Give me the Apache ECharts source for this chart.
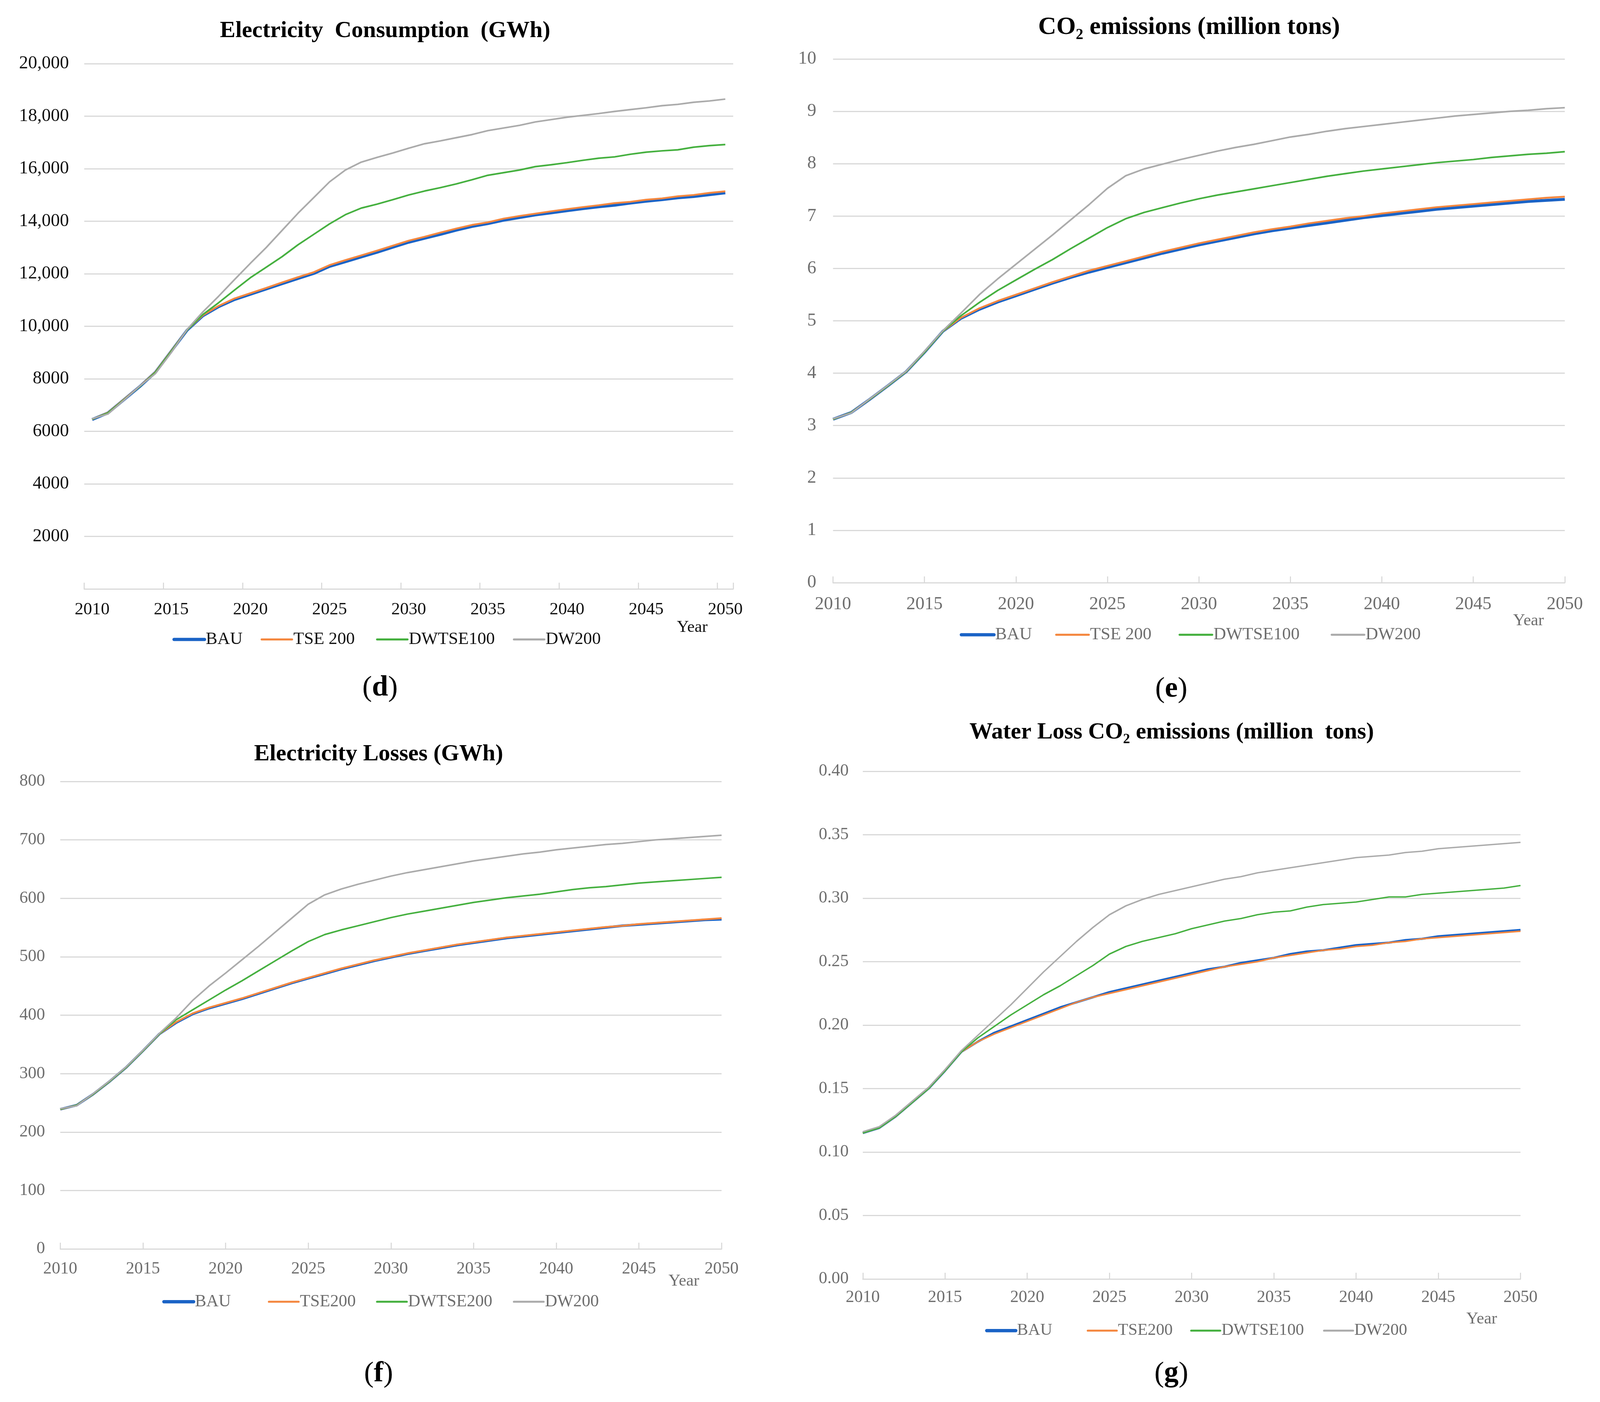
<!DOCTYPE html>
<html>
<head>
<meta charset="utf-8">
<script src="https://cdn.jsdelivr.net/npm/echarts@6/dist/echarts.min.js"></script>
<style>
html,body{margin:0;padding:0;background:#fff;overflow:hidden;}
#c{width:100vw;height:100vh;}
</style>
</head>
<body>
<div id="c"></div>
<script>
// ---------- DATA ----------
const years = ['2010','2011','2012','2013','2014','2015','2016','2017','2018','2019','2020','2021','2022','2023','2024','2025','2026','2027','2028','2029','2030','2031','2032','2033','2034','2035','2036','2037','2038','2039','2040','2041','2042','2043','2044','2045','2046','2047','2048','2049','2050'];

// (d) Electricity Consumption (GWh)
const dBAU = [6450,6700,7200,7700,8250,9050,9850,10400,10750,11020,11220,11420,11620,11820,12010,12280,12460,12640,12820,13010,13200,13350,13500,13660,13800,13910,14040,14140,14240,14320,14400,14480,14550,14610,14690,14760,14820,14890,14940,15010,15080];
const dTSE = [6460,6710,7210,7710,8260,9060,9860,10420,10780,11060,11260,11460,11670,11870,12060,12330,12520,12700,12880,13070,13260,13410,13570,13720,13860,13960,14100,14200,14290,14380,14460,14540,14610,14690,14740,14820,14870,14950,15000,15080,15140];
const dDWTSE = [6460,6700,7200,7700,8250,9050,9860,10450,10900,11380,11850,12250,12650,13100,13500,13900,14250,14500,14650,14820,15000,15150,15280,15420,15580,15750,15850,15950,16080,16150,16230,16320,16400,16450,16550,16630,16680,16720,16820,16880,16920];
const dDW = [6480,6660,7180,7720,8200,9000,9880,10550,11150,11780,12400,13000,13650,14300,14900,15500,15950,16250,16430,16600,16780,16950,17060,17180,17300,17450,17550,17650,17780,17870,17960,18030,18100,18180,18250,18320,18400,18450,18530,18580,18650];

// (e) CO2 emissions (million tons)
const eBAU = [3.12,3.25,3.50,3.76,4.03,4.40,4.80,5.05,5.22,5.36,5.48,5.60,5.72,5.83,5.93,6.02,6.11,6.20,6.29,6.37,6.45,6.52,6.59,6.66,6.72,6.77,6.82,6.87,6.92,6.97,7.01,7.05,7.09,7.13,7.16,7.19,7.22,7.25,7.28,7.30,7.32];
const eTSE = [3.12,3.25,3.50,3.76,4.03,4.40,4.80,5.06,5.24,5.38,5.50,5.62,5.74,5.85,5.96,6.05,6.14,6.23,6.32,6.40,6.48,6.55,6.62,6.69,6.75,6.80,6.86,6.91,6.96,7.00,7.05,7.09,7.13,7.17,7.20,7.23,7.26,7.29,7.32,7.35,7.37];
const eDWTSE = [3.12,3.25,3.50,3.76,4.03,4.40,4.80,5.10,5.35,5.58,5.78,5.98,6.17,6.38,6.58,6.78,6.95,7.07,7.16,7.25,7.33,7.40,7.46,7.52,7.58,7.64,7.70,7.76,7.81,7.86,7.90,7.94,7.98,8.02,8.05,8.08,8.12,8.15,8.18,8.20,8.23];
const eDW = [3.13,3.24,3.51,3.77,4.04,4.42,4.81,5.15,5.50,5.80,6.08,6.36,6.64,6.93,7.22,7.53,7.77,7.90,7.99,8.08,8.16,8.24,8.31,8.37,8.44,8.51,8.56,8.62,8.67,8.71,8.75,8.79,8.83,8.87,8.91,8.94,8.97,9.00,9.02,9.05,9.07];

// (f) Electricity Losses (GWh)
const fBAU = [239,246,265,287,311,339,368,387,402,412,420,428,437,446,455,463,471,479,486,493,499,505,510,515,520,524,528,532,535,538,541,544,547,550,553,555,557,559,561,563,564];
const fTSE = [239,246,265,287,311,339,368,388,403,413,421,429,438,447,456,464,472,480,487,494,500,506,511,516,521,525,529,533,536,539,542,545,548,551,553,556,558,560,562,564,566];
const fDWTSE = [239,246,265,287,311,339,368,392,409,426,443,459,476,493,510,526,538,546,553,560,567,573,578,583,588,593,597,601,604,607,611,615,618,620,623,626,628,630,632,634,636];
const fDW = [240,245,266,288,312,340,369,395,425,450,472,495,518,542,566,590,606,616,624,631,638,644,649,654,659,664,668,672,676,679,683,686,689,692,694,697,700,702,704,706,708];

// (g) Water Loss CO2 emissions (million tons)
const gBAU = [0.115,0.119,0.128,0.139,0.150,0.164,0.179,0.187,0.194,0.199,0.204,0.209,0.214,0.218,0.222,0.226,0.229,0.232,0.235,0.238,0.241,0.244,0.246,0.249,0.251,0.253,0.256,0.258,0.259,0.261,0.263,0.264,0.265,0.267,0.268,0.270,0.271,0.272,0.273,0.274,0.275];
const gTSE = [0.115,0.119,0.128,0.139,0.150,0.164,0.179,0.187,0.193,0.198,0.203,0.208,0.213,0.218,0.222,0.225,0.228,0.231,0.234,0.237,0.240,0.243,0.246,0.248,0.250,0.253,0.255,0.257,0.259,0.260,0.262,0.263,0.265,0.266,0.268,0.269,0.270,0.271,0.272,0.273,0.274];
const gDWTSE = [0.115,0.119,0.128,0.139,0.150,0.164,0.179,0.190,0.199,0.208,0.216,0.224,0.231,0.239,0.247,0.256,0.262,0.266,0.269,0.272,0.276,0.279,0.282,0.284,0.287,0.289,0.290,0.293,0.295,0.296,0.297,0.299,0.301,0.301,0.303,0.304,0.305,0.306,0.307,0.308,0.310];
const gDW = [0.116,0.120,0.129,0.140,0.151,0.165,0.180,0.192,0.204,0.216,0.229,0.242,0.254,0.266,0.277,0.287,0.294,0.299,0.303,0.306,0.309,0.312,0.315,0.317,0.320,0.322,0.324,0.326,0.328,0.330,0.332,0.333,0.334,0.336,0.337,0.339,0.340,0.341,0.342,0.343,0.344];

const titles = ['Electricity  Consumption  (GWh)','CO\u2082 emissions (million tons)','Electricity Losses (GWh)','Water Loss CO\u2082 emissions (million  tons)'];
const panelLetters = ['d','e','f','g'];
const legendNames = [
  ['BAU','TSE 200','DWTSE100','DW200'],
  ['BAU','TSE 200','DWTSE100','DW200'],
  ['BAU','TSE200','DWTSE200','DW200'],
  ['BAU','TSE200','DWTSE100','DW200']
];

// ---------- STYLE / LAYOUT (design space 4408 x 3590, scaled to the viewport) ----------
const dom = document.getElementById('c');
const SX = dom.clientWidth / 4408, SY = dom.clientHeight / 3590, SF = Math.min(SX, SY);
const X = v => v * SX, Y = v => v * SY, F = v => v * SF;

const SERIF = '"Liberation Serif","Times New Roman",serif';
const COLORS = ['#1a63c6','#f4873f','#45b03f','#ababab'];
const GRID_C = '#d9d9d9';

const panels = [
  {grid:{left:232, top:163, width:1788, height:1345}, gap:true, max:20000, interval:2000,
   fmt:function(v){ if(v===0) return ''; return v>=10000 ? v.toLocaleString('en-US') : String(v); },
   lab:'#111', ylabSize:50, xlabSize:48, ymargin:42, xmargin:31,
   widths:[8,5,4.5,4.5], series:[dBAU,dTSE,dDWTSE,dDW],
   title:{x:1061,y:80,size:64}, year:{x:1907,y:1607}, letter:{x:1047,y:1762},
   legend:{y:1639, xs:[475,718,1036,1413], len:84, size:48}},
  {grid:{left:2295, top:151, width:2016, height:1341}, gap:false, max:10, interval:1,
   fmt:function(v){ return String(v); },
   lab:'#6e6e6e', ylabSize:50, xlabSize:50, ymargin:46, xmargin:33,
   widths:[8,5,4.5,4.5], series:[eBAU,eTSE,eDWTSE,eDW],
   title:{x:3276,y:70,size:69}, year:{x:4211,y:1590}, letter:{x:3227,y:1765},
   legend:{y:1627, xs:[2644,2907,3247,3666], len:90, size:48}},
  {grid:{left:166, top:2001, width:1822, height:1197}, gap:false, max:800, interval:100,
   fmt:function(v){ return String(v); },
   lab:'#6e6e6e', ylabSize:47, xlabSize:47, ymargin:42, xmargin:30,
   widths:[7,5,4.3,4.3], series:[fBAU,fTSE,fDWTSE,fDW],
   title:{x:1043,y:1932,size:64}, year:{x:1884,y:3281}, letter:{x:1043,y:3518},
   legend:{y:3335, xs:[447,738,1036,1413], len:82, size:47}},
  {grid:{left:2377, top:1975, width:1812, height:1300}, gap:false, max:0.4, interval:0.05,
   fmt:function(v){ return v.toFixed(2); },
   lab:'#6e6e6e', ylabSize:47, xlabSize:47, ymargin:39, xmargin:26,
   widths:[6,4.2,4,4], series:[gBAU,gTSE,gDWTSE,gDW],
   title:{x:3228,y:1876,size:64}, year:{x:4082,y:3378}, letter:{x:3227,y:3518},
   legend:{y:3409, xs:[2714,2994,3279,3645], len:80, size:46}}
];

const option = {
  backgroundColor:'#ffffff',
  animation:false,
  grid:[], xAxis:[], yAxis:[], series:[], legend:[], graphic:[]
};

panels.forEach(function(p, i){
  option.grid.push({containLabel:false, left:X(p.grid.left), top:Y(p.grid.top), width:X(p.grid.width), height:Y(p.grid.height)});
  option.xAxis.push({
    gridIndex:i, type:'category', data:years, boundaryGap:p.gap,
    axisLine:{show:true, lineStyle:{color:GRID_C, width:F(3)}},
    axisTick:{show:true, inside:true, length:Y(16), interval:4, lineStyle:{color:GRID_C, width:F(3)}},
    axisLabel:{interval:4, margin:Y(p.xmargin), color:p.lab, fontFamily:SERIF, fontSize:F(p.xlabSize)},
    splitLine:{show:false}
  });
  option.yAxis.push({
    gridIndex:i, type:'value', min:0, max:p.max, interval:p.interval,
    axisLine:{show:false}, axisTick:{show:false},
    axisLabel:{margin:X(p.ymargin), color:p.lab, fontFamily:SERIF, fontSize:F(p.ylabSize), formatter:p.fmt},
    splitLine:{show:true, lineStyle:{color:GRID_C, width:F(3)}}
  });
  p.series.forEach(function(arr, k){
    option.series.push({
      type:'line', name:legendNames[i][k], xAxisIndex:i, yAxisIndex:i,
      data:arr, symbol:'none', smooth:false, z:2+k,
      lineStyle:{color:COLORS[k], width:F(p.widths[k])},
      itemStyle:{color:COLORS[k]}
    });
  });
  legendNames[i].forEach(function(nm, k){
    const lw = k === 0 ? F(9) : F(5.5);
    option.legend.push({
      data:[nm], left:X(p.legend.xs[k]), top:Y(p.legend.y) - F(p.legend.size)/2 - F(2),
      itemWidth:X(p.legend.len), itemHeight:F(14), padding:0, itemGap:0,
      selectedMode:false,
      itemStyle:{opacity:0},
      lineStyle:{width:lw, color:COLORS[k], opacity:1, cap:'round'},
      textStyle:{color:p.lab, fontFamily:SERIF, fontSize:F(p.legend.size), padding:[0,0,0,-F(2)]}
    });
  });
  option.graphic.push({
    type:'text', x:X(p.title.x), y:Y(p.title.y), silent:true,
    style:{text:titles[i], textAlign:'center', textVerticalAlign:'middle', align:'center', verticalAlign:'middle',
           fill:'#000', fontFamily:SERIF, fontWeight:'bold', fontSize:F(p.title.size)}
  });
  option.graphic.push({
    type:'text', x:X(p.year.x), y:Y(p.year.y), silent:true,
    style:{text:'Year', textAlign:'center', textVerticalAlign:'middle', align:'center', verticalAlign:'middle',
           fill:p.lab, fontFamily:SERIF, fontSize:F(46)}
  });
  option.graphic.push({
    type:'text', x:X(p.letter.x), y:Y(p.letter.y), silent:true,
    style:{text:'({b|' + panelLetters[i] + '})', textAlign:'center', textVerticalAlign:'middle', align:'center', verticalAlign:'middle',
           fill:'#000', fontFamily:SERIF, fontSize:F(80),
           rich:{b:{fontFamily:SERIF, fontSize:F(80), fontWeight:'bold', fill:'#000', color:'#000'}}}
  });
});

const chart = echarts.init(dom);
chart.setOption(option);
</script>
</body>
</html>
